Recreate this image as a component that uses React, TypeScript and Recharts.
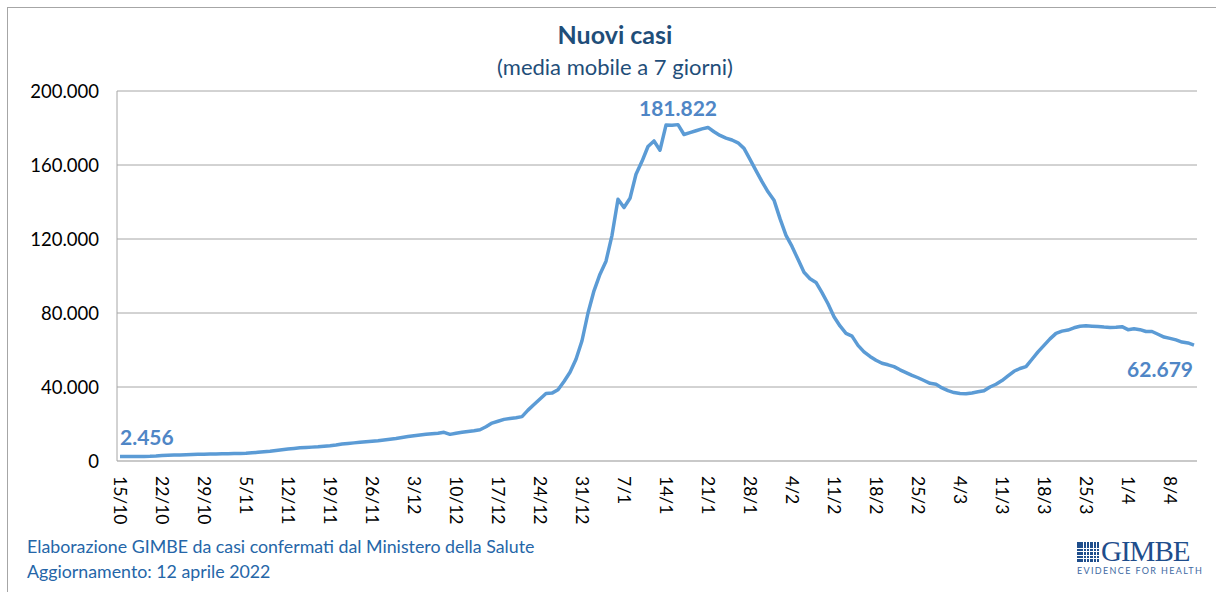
import React from 'react';
import { LineChart, Line, XAxis, YAxis, CartesianGrid, LabelList } from 'recharts';

// Categories: daily dates from 15/10/2021 to 12/4/2022
const monthRanges: [number, number, number][] = [
  // [month, firstDay, lastDay]
  [10, 15, 31],
  [11, 1, 30],
  [12, 1, 31],
  [1, 1, 31],
  [2, 1, 28],
  [3, 1, 31],
  [4, 1, 12],
];
const dates: string[] = [];
monthRanges.forEach(([m, a, b]) => {
  for (let d = a; d <= b; d++) dates.push(`${d}/${m}`);
});

// New cases, 7-day moving average
const cases: number[] = [
  2456, 2470, 2480, 2490, 2500, 2550, 2700, 2950, 3100, 3200,
  3300, 3400, 3550, 3650, 3700, 3800, 3850, 3900, 3950, 4000,
  4050, 4150, 4400, 4700, 5000, 5300, 5700, 6100, 6500, 6800,
  7100, 7300, 7500, 7700, 8000, 8300, 8700, 9200, 9500, 9800,
  10100, 10400, 10700, 11000, 11400, 11800, 12200, 12700, 13200, 13700,
  14100, 14400, 14700, 15000, 15500, 14400, 15000, 15500, 16000, 16400,
  16900, 18500, 20500, 21500, 22500, 23000, 23400, 24000, 27500, 30500,
  33500, 36500, 36700, 38500, 43000, 48000, 55000, 65000, 80000, 92000,
  101000, 108000, 122000, 141500, 137000, 142000, 155000, 162000, 170000, 173000,
  168000, 181600, 181500, 181822, 176500, 177500, 178500, 179500, 180300, 178000,
  176000, 174500, 173500, 172000, 169000, 163000, 157000, 151000, 145500, 141000,
  131000, 122000, 116000, 109000, 102000, 98500, 96500, 91000, 85000, 78000,
  73000, 69000, 67500, 62500, 59000, 56500, 54500, 52800, 52000, 51000,
  49300, 47800, 46300, 45000, 43500, 42000, 41500, 39500, 38000, 37000,
  36500, 36300, 36800, 37400, 38000, 40000, 41500, 43500, 46000, 48500,
  50000, 51000, 55000, 59000, 62500, 66000, 69000, 70200, 70800, 72000,
  72800, 73100, 72900, 72700, 72400, 72200, 72300, 72600, 71000, 71500,
  71000, 70000, 70000, 68500, 67000, 66300, 65500, 64300, 63800, 62679,
];

const yTicks: number[] = [0, 40000, 80000, 120000, 160000, 200000];
const labelledIndices: number[] = [0, 93, cases.length - 1];

const data = dates.map((d, i) => ({ d, v: cases[i] }));

const fmt = (n: number) => String(n).replace(/\B(?=(\d{3})+(?!\d))/g, '.');

const FONT = 'Lato, "Open Sans", sans-serif';

const XTick = (props: any) => {
  const { x, y, payload } = props;
  return (
    <text
      transform={`translate(${x},${y + 7}) rotate(90)`}
      x={0}
      y={0}
      dy="0.36em"
      textAnchor="start"
      fontSize={17.5}
      fontFamily={FONT}
      fill="#000"
    >
      {payload.value}
    </text>
  );
};

const YTick = (props: any) => {
  const { x, y, payload } = props;
  return (
    <text x={x - 10} y={y} dy="0.36em" textAnchor="end" fontSize={18.5} fontFamily={FONT} fill="#000">
      {fmt(payload.value)}
    </text>
  );
};

const PointLabel = (props: any) => {
  const { x, y, index, value } = props;
  if (!labelledIndices.includes(index)) return null;
  let anchor: 'start' | 'middle' | 'end' = 'middle';
  let dx = 0;
  let dy = -9;
  if (index === 0) {
    anchor = 'start';
    dx = 0;
    dy = -11;
  } else if (index === cases.length - 1) {
    anchor = 'end';
    dx = -1;
    dy = 32;
  }
  return (
    <text
      x={x + dx}
      y={y + dy}
      textAnchor={anchor}
      fontSize={21}
      fontWeight="bold"
      fontFamily={FONT}
      fill="#4F86C6"
    >
      {fmt(value)}
    </text>
  );
};

const Logo = () => {
  const cells = [];
  for (let r = 0; r < 6; r++) {
    for (let c = 0; c < 7; c++) {
      cells.push(
        <div
          key={`${r}-${c}`}
          style={{
            position: 'absolute',
            left: c * 3.3,
            top: r * 3.4,
            width: 2.5,
            height: 2.6,
            background: '#1F4E8C',
          }}
        />
      );
    }
  }
  return (
    <div style={{ position: 'absolute', left: 1077, top: 538, width: 120, height: 40 }}>
      <div style={{ position: 'absolute', left: 0, top: 4, width: 24, height: 21 }}>{cells}</div>
      <div
        style={{
          position: 'absolute',
          left: 24,
          top: -2,
          fontFamily: '"Liberation Serif", "DejaVu Serif", serif',
          fontSize: 29,
          color: '#1F4E8C',
          letterSpacing: -1,
          lineHeight: '30px',
        }}
      >
        GIMBE
      </div>
      <div
        style={{
          position: 'absolute',
          left: 0,
          top: 28,
          fontFamily: FONT,
          fontSize: 9,
          color: '#3E6AA3',
          letterSpacing: 1.35,
          whiteSpace: 'nowrap',
          lineHeight: '10px',
        }}
      >
        EVIDENCE FOR HEALTH
      </div>
    </div>
  );
};

export default function App() {
  return (
    <div
      style={{
        position: 'absolute',
        left: 0,
        top: 0,
        width: 1216,
        height: 592,
        background: '#fff',
        overflow: 'hidden',
        fontFamily: FONT,
      }}
    >
      <div
        style={{
          position: 'absolute',
          left: 7,
          top: 7,
          width: 1230,
          height: 600,
          border: '1.5px solid #A6A6A6',
          boxSizing: 'border-box',
        }}
      />
      <div
        style={{
          position: 'absolute',
          left: 0,
          width: 1230,
          top: 19,
          textAlign: 'center',
          fontSize: 25,
          fontWeight: 'bold',
          color: '#1F4E79',
          lineHeight: '30px',
        }}
      >
        Nuovi casi
      </div>
      <div
        style={{
          position: 'absolute',
          left: 0,
          width: 1230,
          top: 54,
          textAlign: 'center',
          fontSize: 22,
          color: '#1F4E79',
          lineHeight: '26px',
        }}
      >
        (media mobile a 7 giorni)
      </div>
      <div style={{ position: 'absolute', left: 0, top: 0 }}>
        <LineChart
          width={1216}
          height={592}
          data={data}
          margin={{ top: 91, right: 19, bottom: 71, left: 17 }}
        >
          <CartesianGrid horizontal vertical={false} stroke="#A6A6A6" strokeWidth={1} />
          <XAxis
            dataKey="d"
            interval={6}
            tick={<XTick />}
            tickLine={false}
            axisLine={{ stroke: '#C6C6C6', strokeWidth: 1.5 }}
            height={60}
            padding={{ left: 3, right: 3 }}
          />
          <YAxis
            domain={[0, 200000]}
            ticks={yTicks}
            tick={<YTick />}
            tickLine={false}
            axisLine={{ stroke: '#A6A6A6' }}
            width={100}
            interval={0}
          />
          <Line
            type="linear"
            dataKey="v"
            stroke="#5B9BD5"
            strokeWidth={3.5}
            dot={false}
            strokeLinejoin="round"
            isAnimationActive={false}
          >
            <LabelList dataKey="v" content={<PointLabel />} />
          </Line>
        </LineChart>
      </div>
      <div
        style={{
          position: 'absolute',
          left: 27,
          top: 534,
          fontSize: 17.8,
          color: '#2566A8',
          lineHeight: '25px',
          whiteSpace: 'nowrap',
        }}
      >
        Elaborazione GIMBE da casi confermati dal Ministero della Salute
        <br />
        Aggiornamento: 12 aprile 2022
      </div>
      <Logo />
    </div>
  );
}
